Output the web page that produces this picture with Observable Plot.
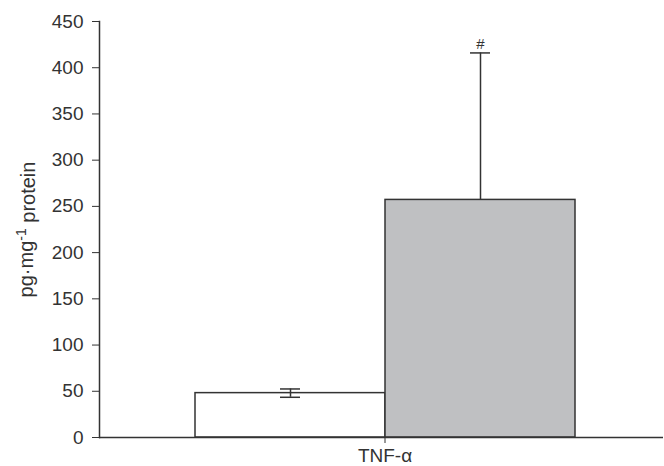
<!DOCTYPE html>
<html>
<head>
<meta charset="utf-8">
<script src="https://cdn.jsdelivr.net/npm/d3@7"></script>
<script src="https://cdn.jsdelivr.net/npm/@observablehq/plot@0.6"></script>
<style>
  html, body { margin: 0; padding: 0; background: #fff; }
</style>
</head>
<body>
<div id="chart"></div>
<script>
const category = "TNF-α";
const groups = ["Control", "Exposed"];
const means = [48, 257];
const errLow = [4.5, 0];
const errHigh = [4.5, 159];
const fills = ["#ffffff", "#bfc0c2"];
const notes = ["", "#"];
const yTicks = [0, 50, 100, 150, 200, 250, 300, 350, 400, 450];
const yLabel = "pg·mg-1 protein";

const data = groups.map((g, i) => ({
  cat: category, group: g, mean: means[i],
  lo: means[i] - errLow[i], hi: means[i] + errHigh[i],
  fill: fills[i], note: notes[i]
}));

const ink = "#333";
const chart = Plot.plot({
  width: 664, height: 466,
  marginLeft: 99, marginRight: 1, marginTop: 21, marginBottom: 29,
  style: {fontFamily: "'Liberation Sans', Arial, sans-serif", fontSize: "19px", color: ink, background: "#fff"},
  fx: {domain: [category], padding: 0, label: null},
  x: {domain: groups, paddingInner: 0, paddingOuter: 0.484, align: 0.52, axis: null},
  y: {domain: [0, 450], label: null},
  marks: [
    Plot.barY(data, {fx: "cat", x: "group", y: "mean", fill: "fill", stroke: ink, strokeWidth: 1.5}),
    Plot.ruleX(data.filter(d => d.hi > d.lo), {fx: "cat", x: "group", y1: "lo", y2: "hi", stroke: ink, strokeWidth: 1.5}),
    Plot.tickY(data, {fx: "cat", x: "group", y: "hi", stroke: ink, strokeWidth: 1.5, insetLeft: 85, insetRight: 85}),
    Plot.tickY(data.filter(d => d.lo < d.mean), {fx: "cat", x: "group", y: "lo", stroke: ink, strokeWidth: 1.5, insetLeft: 85, insetRight: 85}),
    Plot.text(data, {fx: "cat", x: "group", y: "hi", text: "note", dy: -9, fontSize: 15, fill: ink}),
    Plot.axisY({ticks: yTicks, tickSize: 7, tickPadding: 9, stroke: ink, label: yLabel, labelAnchor: "center", labelOffset: 81, fontSize: 19}),
    Plot.axisFx({anchor: "bottom", tickSize: 6, tickPadding: 5, dx: 3.5, stroke: ink, label: null, fontSize: 19}),
    Plot.ruleY([0], {stroke: ink, strokeWidth: 1.5}),
    Plot.frame({anchor: "left", stroke: ink, strokeWidth: 1.5})
  ]
});

// superscript in y label (and drop any arrow)
d3.select(chart).selectAll("text").each(function() {
  if (this.textContent.startsWith("pg·mg")) {
    const t = d3.select(this).attr("font-size", 20);
    t.text(null);
    t.append("tspan").text("pg·mg");
    t.append("tspan").attr("dy", "-0.45em").attr("font-size", "0.7em").text("-1");
    t.append("tspan").attr("dy", "0.45em").text(" protein");
  }
});

document.getElementById("chart").appendChild(chart);
</script>
</body>
</html>
